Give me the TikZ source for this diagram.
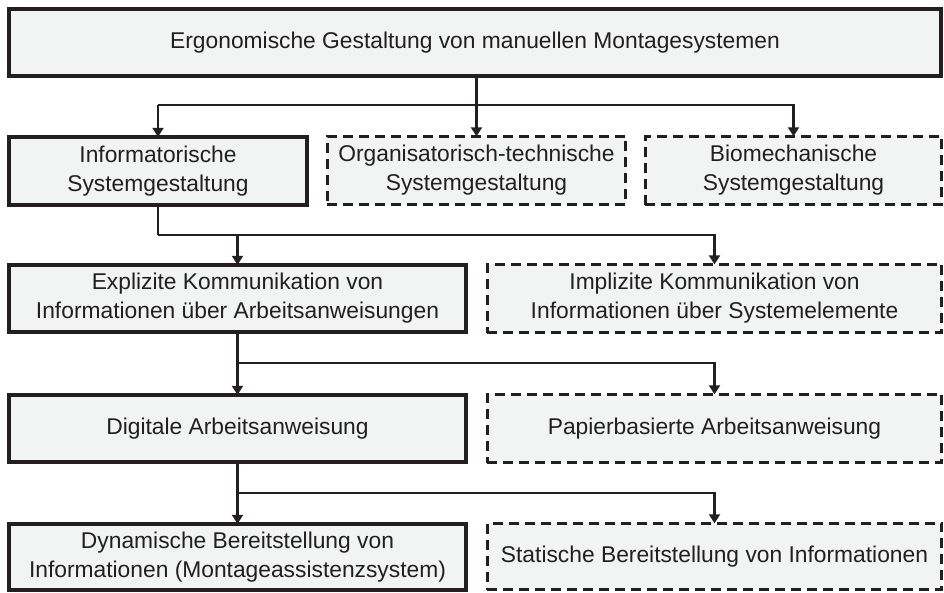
\documentclass[tikz,border=0pt]{standalone}
\usepackage{fontspec}
\setmainfont{Liberation Sans}
\usetikzlibrary{arrows.meta}
\definecolor{boxfill}{HTML}{F2F3F3}
\definecolor{ink}{HTML}{231F20}
\newcommand\mybox[7]{% style, name, x1, y1, x2, y2, text
  \node[#1, minimum width={#5-#3}, minimum height={#6-#4}] (#2) at ({(#3+#5)/2},{(#4+#6)/2}) {#7};}
\begin{document}
\begin{tikzpicture}[x=1pt,y=-1pt,
  box/.style={rectangle, fill=boxfill, draw=ink, text=ink, align=center,
    inner sep=0pt, outer sep=0pt, font=\fontsize{22.8}{29}\selectfont},
  solidbox/.style={box, line width=3.6pt},
  dashbox/.style={box, line width=2.6pt, dash pattern=on 10pt off 6pt},
  conn/.style={draw=ink, line width=2.4pt},
  arr/.style={conn, -{Triangle[width=11pt,length=9pt]}}]
\useasboundingbox (0,0) rectangle (944,592);
\fill[white] (0,0) rectangle (944,592);
% row 1
\mybox{solidbox}{top}{8.8}{8.8}{941.2}{76.2}{Ergonomische Gestaltung von manuellen Montagesystemen}
% row 2
\mybox{solidbox}{b21}{8.8}{136.8}{307.2}{205.2}{Informatorische\\Systemgestaltung}
\mybox{dashbox}{b22}{327.3}{136.3}{625.7}{204.7}{Organisatorisch-technische\\Systemgestaltung}
\mybox{dashbox}{b23}{645.3}{136.3}{941.7}{204.7}{Biomechanische\\Systemgestaltung}
% row 3
\mybox{solidbox}{b31}{8.8}{264.8}{466.2}{332.2}{Explizite Kommunikation von\\Informationen über Arbeitsanweisungen}
\mybox{dashbox}{b32}{487.3}{264.3}{941.7}{332.7}{Implizite Kommunikation von\\Informationen über Systemelemente}
% row 4
\mybox{solidbox}{b41}{8.8}{394.8}{466.2}{462.2}{Digitale Arbeitsanweisung}
\mybox{dashbox}{b42}{487.3}{394.3}{941.7}{462.7}{Papierbasierte Arbeitsanweisung}
% row 5
\mybox{solidbox}{b51}{8.8}{523.8}{466.2}{589.8}{Dynamische Bereitstellung von\\Informationen (Montageassistenzsystem)}
\mybox{dashbox}{b52}{487.3}{523.3}{941.7}{589.7}{Statische Bereitstellung von Informationen}
% junction levels
\coordinate (h1) at (0,105);
\coordinate (h2) at (0,235);
\coordinate (h3) at (0,363);
\coordinate (h4) at (0,493);
% connectors row 1 -> 2
\draw[arr] (top.south -| b22.north) -- (b22.north);
\draw[arr] (b21.north |- h1) -- (b21.north);
\draw[arr] (b21.north |- h1) -| (b23.north);
% row 2 -> 3
\draw[conn] (b21.south) -- (b21.south |- h2);
\draw[arr] (b21.south |- h2) -| (b32.north);
\draw[arr] (b31.north |- h2) -- (b31.north);
% row 3 -> 4
\draw[arr] (b31.south) -- (b41.north);
\draw[arr] (b31.south |- h3) -| (b42.north);
% row 4 -> 5
\draw[arr] (b41.south) -- (b51.north);
\draw[arr] (b41.south |- h4) -| (b52.north);
\end{tikzpicture}
\end{document}
